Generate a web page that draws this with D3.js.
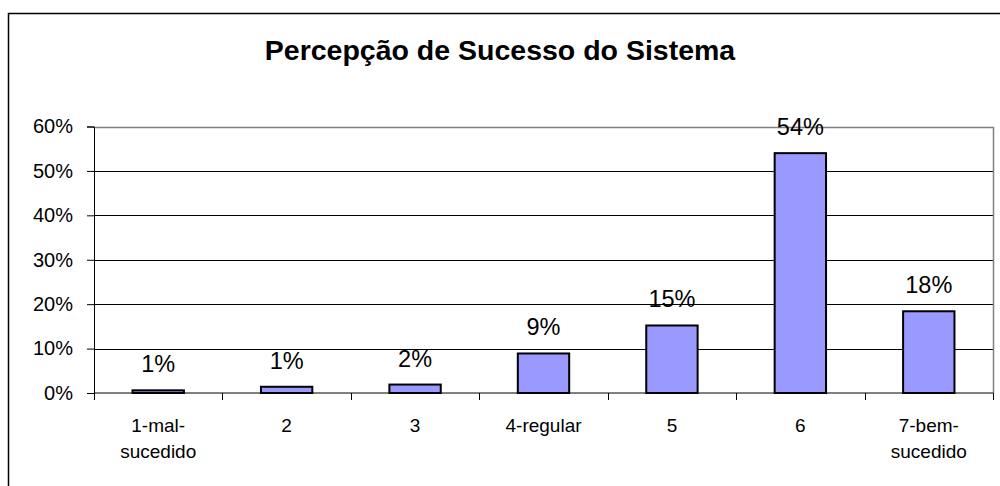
<!DOCTYPE html>
<html>
<head>
<meta charset="utf-8">
<script src="https://cdn.jsdelivr.net/npm/d3@7"></script>
<style>
  body { margin: 0; background: #fff; }
  svg { display: block; font-family: Arial, "Liberation Sans", sans-serif; }
</style>
</head>
<body>
<svg id="chart" width="1000" height="486"></svg>
<script>
// data
const categories = ["1-mal-\nsucedido", "2", "3", "4-regular", "5", "6", "7-bem-\nsucedido"];
const values = [0.006, 0.014, 0.019, 0.089, 0.152, 0.540, 0.184];
const yTicks = [0, 0.1, 0.2, 0.3, 0.4, 0.5, 0.6];

const data = categories.map((c, i) => ({ cat: c, value: values[i] }));

const svg = d3.select("#chart");

// outer chart border
svg.append("rect")
    .attr("x", 8.5).attr("y", 13.5)
    .attr("width", 1000).attr("height", 480)
    .attr("fill", "#fff")
    .attr("stroke", "#000")
    .attr("stroke-width", 1.5);

// title
svg.append("text")
    .attr("x", 500)
    .attr("y", 60)
    .attr("text-anchor", "middle")
    .style("font-size", "28.5px")
    .style("font-weight", "bold")
    .text("Percepção de Sucesso do Sistema");

const plot = { left: 94, right: 993, top: 126.5, bottom: 393 };

const x = d3.scaleBand()
    .domain(categories)
    .range([plot.left, plot.right])
    .paddingInner(0.6)
    .paddingOuter(0.3);

const y = d3.scaleLinear()
    .domain([0, 0.6])
    .range([plot.bottom, plot.top]);

// gridlines
svg.append("g")
    .selectAll("line")
    .data(yTicks.slice(1, -1))
    .enter()
    .append("line")
    .attr("x1", plot.left).attr("x2", plot.right)
    .attr("y1", d => Math.round(y(d)) + 0.5)
    .attr("y2", d => Math.round(y(d)) + 0.5)
    .attr("stroke", "#000");

// plot area border (top and right)
svg.append("path")
    .attr("d", `M${plot.left},${Math.round(plot.top) + 0.5}H${plot.right + 0.5}V${Math.round(plot.bottom)}`)
    .attr("fill", "none")
    .attr("stroke", "#808080")
    .attr("stroke-width", 1.5);

// bars
svg.selectAll("rect.bar")
    .data(data)
    .enter()
    .append("rect")
    .attr("class", "bar")
    .attr("x", d => x(d.cat))
    .attr("y", d => y(d.value))
    .attr("width", x.bandwidth())
    .attr("height", d => y(0) - y(d.value))
    .attr("fill", "#9999ff")
    .attr("stroke", "#000")
    .attr("stroke-width", 2);

// value labels
svg.selectAll("text.label")
    .data(data)
    .enter()
    .append("text")
    .attr("class", "label")
    .attr("x", d => x(d.cat) + x.bandwidth() / 2)
    .attr("y", d => y(d.value) - 18)
    .attr("text-anchor", "middle")
    .style("font-size", "23.5px")
    .style("fill", "#000")
    .text(d => d3.format(".0%")(d.value));

// y axis
svg.append("g")
    .attr("transform", `translate(${plot.left},0)`)
    .call(d3.axisLeft(y).tickValues(yTicks).tickFormat(d3.format(".0%")).tickSize(7).tickPadding(14))
    .call(g => g.selectAll("line, path").attr("stroke", "#000"))
    .selectAll("text")
    .style("font-family", "inherit")
    .style("font-size", "20px")
    .attr("fill", "#000");

// x axis: line plus ticks at category boundaries
const step = (plot.right - plot.left) / categories.length;
const xAxis = svg.append("g");
xAxis.append("line")
    .attr("x1", plot.left).attr("x2", plot.right)
    .attr("y1", plot.bottom).attr("y2", plot.bottom)
    .attr("stroke", "#000");
xAxis.selectAll("line.tick")
    .data(d3.range(categories.length + 1))
    .enter()
    .append("line")
    .attr("class", "tick")
    .attr("x1", i => Math.round(plot.left + i * step) + 0.5)
    .attr("x2", i => Math.round(plot.left + i * step) + 0.5)
    .attr("y1", plot.bottom).attr("y2", plot.bottom + 7)
    .attr("stroke", "#000");

// category labels (wrapped)
const catText = svg.selectAll("text.cat")
    .data(categories)
    .enter()
    .append("text")
    .attr("class", "cat")
    .attr("text-anchor", "middle")
    .style("font-size", "19px")
    .attr("transform", d => `translate(${x(d) + x.bandwidth() / 2},432)`);

catText.selectAll("tspan")
    .data(d => d.split("\n"))
    .enter()
    .append("tspan")
    .attr("x", 0)
    .attr("y", (d, i) => i * 26)
    .text(d => d);
</script>
</body>
</html>
